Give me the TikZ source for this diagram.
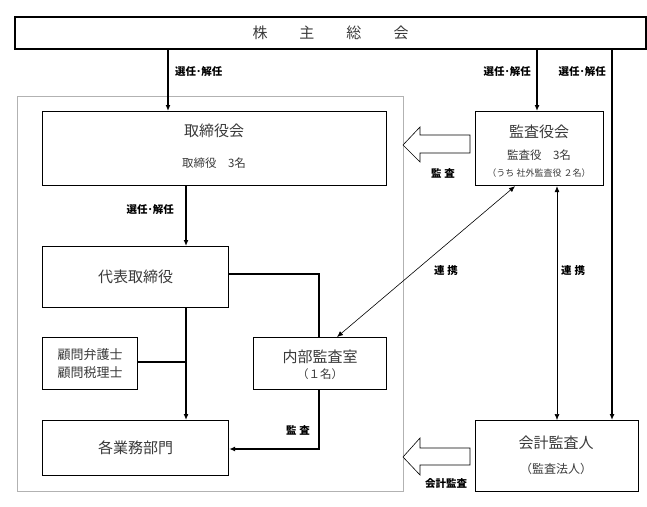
\documentclass[tikz,border=0pt]{standalone}
\usepackage{fontspec}
\newfontfamily\jp{Noto Sans CJK JP}
\usetikzlibrary{arrows.meta,calc}
\definecolor{txt}{HTML}{3A3A3A}
\tikzset{
  box/.style={draw, line width=1.2pt, inner sep=0pt, anchor=north west},
  tx/.style={text=txt, font=\jp\fontsize{15}{15}\selectfont, inner sep=0pt},
  sm/.style={text=txt, font=\jp\fontsize{11.5}{12}\selectfont, inner sep=0pt},
  lbl/.style={font=\jp\bfseries\fontsize{10.5}{10.5}\selectfont, inner sep=0pt},
  thk/.style={line width=1.2pt},
  thkarrow/.style={line width=1.2pt, -{Latex[length=6pt,width=5pt]}},
  thn/.style={line width=0.6pt, {Latex[length=6pt,width=5pt]}-{Latex[length=6pt,width=5pt]}},
  hollow/.style={line width=0.6pt, fill=white, line join=miter}
}
\begin{document}
\begin{tikzpicture}[x=1pt,y=-1pt]
\path[use as bounding box, fill=white] (0,0) rectangle (647,506);
% outer gray frame
\draw[gray!60, line width=0.8pt] (17,96) rectangle (403,491);
% boxes
\node[box, line width=2pt, minimum width=631pt, minimum height=32pt] (kabu) at (14,16) {};
\node[tx] (kabut) at (kabu.center) {株\hspace{32pt}主\hspace{32pt}総\hspace{32pt}会};
\node[box, minimum width=344pt, minimum height=74pt] (tori) at (42,111) {};
\node[tx] (torit) at (214,131) {取締役会};
\node[sm] (toris) at (214,163) {取締役　3名};
\node[box, minimum width=128pt, minimum height=74pt] (kansa) at (475,111) {};
\node[tx] (kansat) at (539,132) {監査役会};
\node[sm] (kansas) at (539,155) {監査役　3名};
\node[text=txt, font=\jp\fontsize{9}{9}\selectfont, inner sep=0pt] (kansau) at (539,173) {（うち 社外監査役 ２名）};
\node[box, minimum width=186pt, minimum height=61pt] (daihyo) at (42,246) {};
\node[tx] (daihyot) at (daihyo.center) {代表取締役};
\node[box, minimum width=95pt, minimum height=52pt] (komon) at (42,337) {};
\node[text=txt, font=\jp\fontsize{13}{18}\selectfont, inner sep=0pt, align=center] (komont) at (komon.center) {顧問弁護士\\顧問税理士};
\node[box, minimum width=133pt, minimum height=52pt] (naibu) at (253,337) {};
\node[tx] (naibut) at (320,357) {内部監査室};
\node[sm] (naibus) at (320,374) {（１名）};
\node[box, minimum width=186pt, minimum height=55pt] (gyomu) at (42,420) {};
\node[tx] (gyomut) at (gyomu.center) {各業務部門};
\node[box, minimum width=163pt, minimum height=71pt] (kaikei) at (475,420) {};
\node[tx] (kaikeit) at (556,443) {会計監査人};
\node[text=txt, font=\jp\fontsize{12}{12}\selectfont, inner sep=0pt] (kaikeis) at (556,469) {（監査法人）};
% coordinates
\coordinate (x168) at (168,0);
\coordinate (x186) at (186,0);
\coordinate (x319) at (319,0);
\coordinate (x537) at (537,0);
\coordinate (x557) at (557,0);
\coordinate (x612) at (612,0);
\coordinate (y274) at (0,274);
\coordinate (y362) at (0,362);
\coordinate (y449) at (0,449);
% arrows from shareholders
\draw[thkarrow] (x168 |- kabu.south) -- (x168 |- tori.north);
\draw[thkarrow] (x537 |- kabu.south) -- (x537 |- kansa.north);
\draw[thkarrow] (x612 |- kabu.south) -- (x612 |- kaikei.north);
\node[lbl, anchor=west] (l1) at (175,72) {選任･解任};
\node[lbl, anchor=east] (l2) at (531,72) {選任･解任};
\node[lbl, anchor=east] (l3) at (606,72) {選任･解任};
% board -> representative
\draw[thkarrow] (x186 |- tori.south) -- (x186 |- daihyo.north);
\node[lbl, anchor=east] (l4) at (174,210) {選任･解任};
% representative -> departments
\draw[thkarrow] (x186 |- daihyo.south) -- (x186 |- gyomu.north);
\draw[thk] (komon.east |- y362) -- (x186 |- y362);
% representative -> internal audit
\draw[thk] (daihyo.east |- y274) -| (x319 |- naibu.north);
% internal audit -> departments
\draw[thkarrow] (x319 |- naibu.south) |- (gyomu.east |- y449);
\node[lbl] (l5) at (298,430) {監\hspace{3pt}査};
% cooperation arrows
\draw[thn] ($(kansa.south west)+(40,0)$) -- ($(naibu.north west)+(84,0)$);
\node[lbl] (l6) at (446,271) {連\hspace{3pt}携};
\draw[thn] (x557 |- kansa.south) -- (x557 |- kaikei.north);
\node[lbl] (l7) at (573,271) {連\hspace{3pt}携};
% hollow arrows
\draw[hollow] (403,145) -- (420,127) -- (420,135) -- (470,135) -- (470,153) -- (420,153) -- (420,162) -- cycle;
\node[lbl] (l8) at (443,173) {監\hspace{3pt}査};
\draw[hollow] (403,457) -- (420,438) -- (420,448) -- (470,448) -- (470,465) -- (420,465) -- (420,475) -- cycle;
\node[lbl] (l9) at (446,484) {会計監査};
\end{tikzpicture}
\end{document}
